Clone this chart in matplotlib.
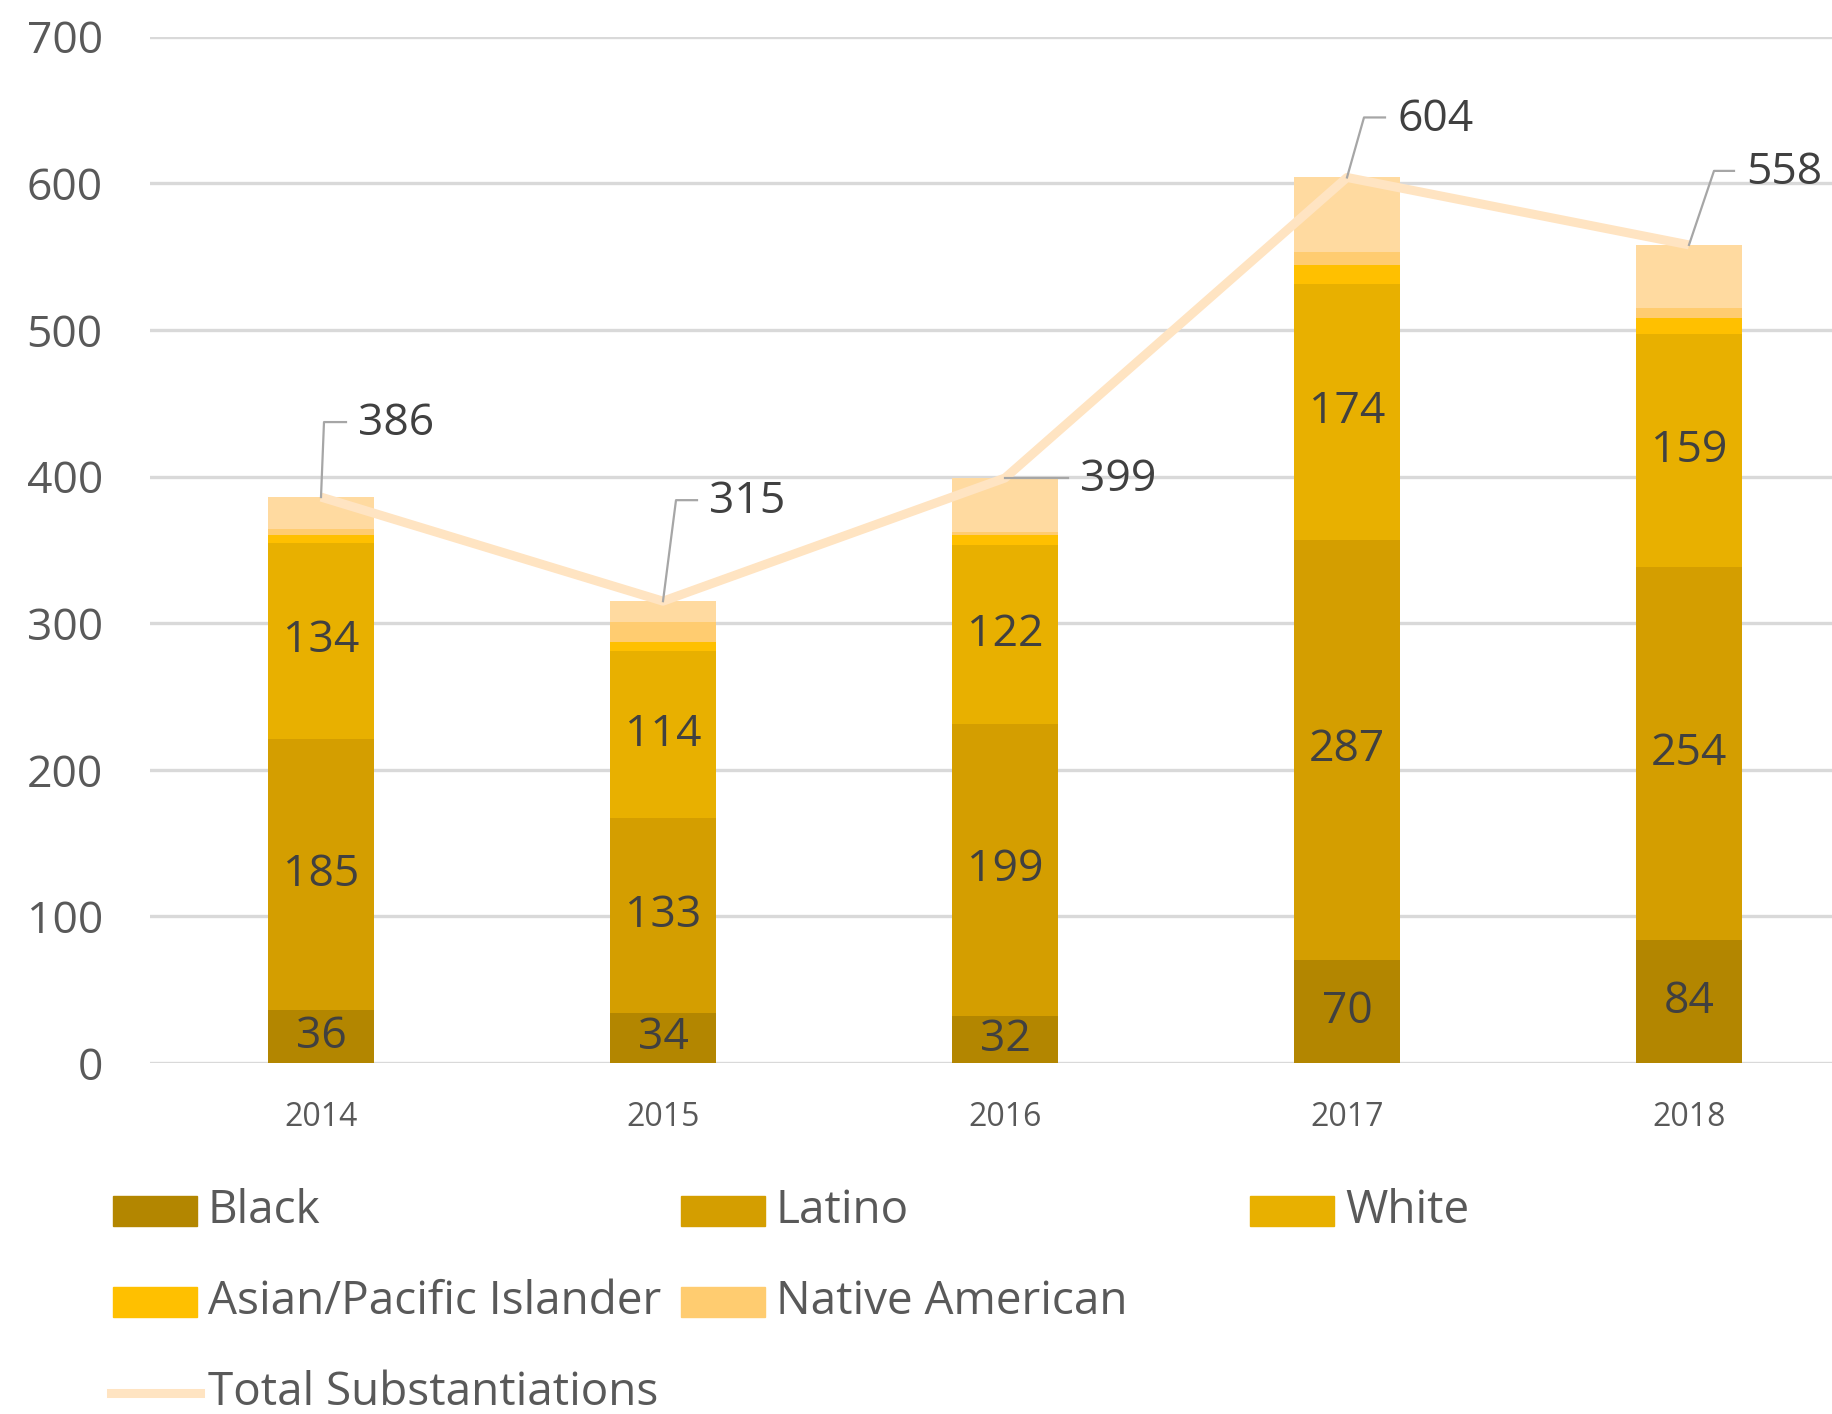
import numpy as np
import matplotlib.pyplot as plt
import matplotlib.transforms as mtransforms
from matplotlib.patches import Rectangle
from matplotlib.lines import Line2D

plt.rcParams['font.family'] = ['Open Sans', 'DejaVu Sans']

years = ['2014', '2015', '2016', '2017', '2018']
black = [36, 34, 32, 70, 84]
latino = [185, 133, 199, 287, 254]
white = [134, 114, 122, 174, 159]
asian = [5, 6, 7, 13, 11]
native = [4, 14, 2, 9, 7]
other = [22, 14, 37, 51, 43]
total = [386, 315, 399, 604, 558]

series = [('Black', black, '#B38600'),
          ('Latino', latino, '#D49E00'),
          ('White', white, '#E8B000'),
          ('Asian/Pacific Islander', asian, '#FFC000'),
          ('Native American', native, '#FFCC70'),
          (None, other, '#FFDAA0')]
line_color = '#FFE4C2'
text_color = '#404040'

W, H = 1833, 1414
fig = plt.figure(figsize=(W / 100, H / 100), dpi=100)
ax = fig.add_axes([150 / W, (H - 1063) / H, 1710 / W, (1063 - 36.7) / H])

x = np.arange(len(years))
bottom = np.zeros(len(years))
for i, (name, vals, col) in enumerate(series):
    bars = ax.bar(x, vals, width=0.31, bottom=bottom, color=col, zorder=2)
    if i < 3:
        ax.bar_label(bars, labels=[str(v) for v in vals], label_type='center',
                     fontsize=32, color=text_color, zorder=5)
    bottom += np.array(vals)

ax.plot(x, total, color=line_color, lw=6.5, zorder=3, solid_capstyle='butt')

# Excel style callouts for the totals (pixel offsets from the point)
leaders = [[(0, 0), (3, 75), (25, 75)],
           [(0, 0), (13, 101), (34, 101)],
           [(0, 0), (63, 0)],
           [(0, 0), (17, 60), (38, 60)],
           [(0, 0), (25, 74), (45, 74)]]
for i, pts in enumerate(leaders):
    tr = mtransforms.Affine2D() + mtransforms.ScaledTranslation(x[i], total[i], ax.transData)
    xs = [p[0] for p in pts]
    ys = [p[1] for p in pts]
    ax.add_line(Line2D(xs, ys, transform=tr, color='#A6A6A6', lw=1.6, zorder=4, clip_on=False))
    ax.text(xs[-1] + 12, ys[-1] - 2, str(total[i]), transform=tr, fontsize=32,
            color=text_color, va='center', ha='left', zorder=6)

ax.set_xlim(-0.5, 4.5)
ax.set_ylim(0, 700)
ax.set_yticks(range(0, 701, 100))
ax.set_xticks(x)
ax.set_xticklabels(years)
ax.tick_params(axis='y', length=0, pad=34, labelsize=32, labelcolor='#595959')
ax.tick_params(axis='x', length=0, pad=27, labelsize=23, labelcolor='#595959')
ax.yaxis.grid(True, color='#D9D9D9', lw=2.4, zorder=0)
ax.set_axisbelow(True)
for s in ax.spines.values():
    s.set_visible(False)

# legend laid out by hand, Excel style grid
legend_items = [('Black', '#B38600', 0, 0), ('Latino', '#D49E00', 1, 0),
                ('White', '#E8B000', 2, 0),
                ('Asian/Pacific Islander', '#FFC000', 0, 1),
                ('Native American', '#FFCC70', 1, 1)]
col_x = [113, 681, 1250]
row_y = [1211, 1302, 1393]
for name, col, c, r in legend_items:
    x0, yc = col_x[c], row_y[r]
    fig.add_artist(Rectangle((x0 / W, 1 - (yc + 15) / H), 84 / W, 30 / H,
                             transform=fig.transFigure, color=col))
    fig.text((x0 + 95) / W, 1 - yc / H, name, fontsize=33, color='#595959', va='center')
fig.add_artist(Line2D([111 / W, 200 / W], [1 - 1393 / H, 1 - 1393 / H],
                      transform=fig.transFigure, color=line_color, lw=6.5))
fig.text((113 + 95) / W, 1 - 1393 / H, 'Total Substantiations', fontsize=33,
         color='#595959', va='center')

fig.savefig('out.png', dpi=100)
